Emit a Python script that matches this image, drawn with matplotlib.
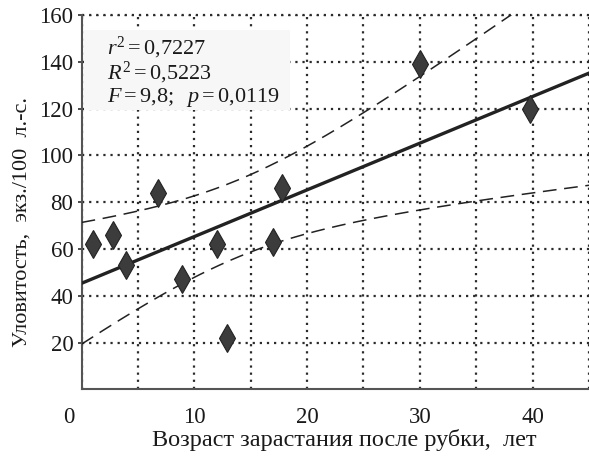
import numpy as np
import matplotlib
matplotlib.use("Agg")
import matplotlib.pyplot as plt
import matplotlib.transforms as mtransforms
from matplotlib.patches import Rectangle

plt.rcParams["font.family"] = ["Liberation Serif", "DejaVu Serif"]
plt.rcParams["mathtext.fontset"] = "custom"
plt.rcParams["mathtext.rm"] = "Liberation Serif"
plt.rcParams["mathtext.it"] = "Liberation Serif:italic"

# Data
age = [1.0, 2.8, 3.9, 6.8, 8.9, 12.0, 12.9, 17.0, 17.8, 30.0, 39.8]
catch = [62, 66, 53, 84, 47, 62, 22, 63, 86, 139, 120]
stats_lines = [r"$r^2 = 0{,}7227$", r"$R^2 = 0{,}5223$", r"$F = 9{,}8;\ \ p = 0{,}0119$"]
x_ticks = [0, 10, 20, 30, 40]
y_ticks = [20, 40, 60, 80, 100, 120, 140, 160]

x = np.array(age)
y = np.array(catch)
n = len(x)

# linear fit and 95% confidence band of the mean
slope, intercept = np.polyfit(x, y, 1)
xs = np.linspace(0, 45, 200)
fit = intercept + slope * xs
resid = y - (intercept + slope * x)
s = np.sqrt(np.sum(resid ** 2) / (n - 2))
t_crit = 2.262
half = t_crit * s * np.sqrt(1 / n + (xs - x.mean()) ** 2 / np.sum((x - x.mean()) ** 2))

ink = "#2b2b2b"
fig = plt.figure(figsize=(5.89, 4.58), dpi=100)
ax = fig.add_axes([81.6 / 589, 1 - 389.4 / 458, 1 - 81.6 / 589, (389.4 - 15) / 458])

ax.set_xlim(0, 44.75)
ax.set_ylim(0, 160)
ax.set_xticks(x_ticks)
ax.set_yticks(y_ticks)
ax.set_xticks([5, 15, 25, 35, 45], minor=True)

ax.grid(True, which="both", axis="x", color=ink, linestyle=(0, (1, 2.2)), linewidth=1.6)
ax.grid(True, axis="y", color=ink, linestyle=(0, (1, 2.2)), linewidth=1.6)
ax.axhline(160, color=ink, linestyle=(0, (1, 2.2)), linewidth=1.6, clip_on=False)

for side in ["top", "right"]:
    ax.spines[side].set_visible(False)
for side in ["left", "bottom"]:
    ax.spines[side].set_color("#555555")
    ax.spines[side].set_linewidth(1.5)

ax.tick_params(axis="y", direction="out", length=3, width=1.2, color=ink, labelsize=16.5, pad=3, labelcolor="#1a1a1a")
ax.tick_params(axis="x", which="both", length=0, labelsize=16.5, pad=13, labelcolor="#1a1a1a")

# shift the "0" label a little to the left, as in the picture
offset = mtransforms.ScaledTranslation(-13 / 100, 0, fig.dpi_scale_trans)
lbl0 = ax.get_xticklabels()[0]
lbl0.set_transform(lbl0.get_transform() + offset)

ax.plot(xs, fit, color="#222222", linewidth=2.4, zorder=4)
ax.plot(xs, fit + half, color="#222222", linewidth=1.1, dashes=(9, 5), zorder=4)
ax.plot(xs, fit - half, color="#222222", linewidth=1.1, dashes=(9, 5), zorder=4)

ax.plot(x, y, linestyle="none", marker="d", markersize=14, markerfacecolor="#3c3c3c",
        markeredgecolor="#222222", markeredgewidth=0.8, zorder=5)

# stats box
ax.add_patch(Rectangle((0.004, 0.746), 0.406, 0.214, transform=ax.transAxes,
                       facecolor="#f7f7f7", edgecolor="none", zorder=3))
for i, line in enumerate(stats_lines):
    ax.text(0.05, 0.912 - i * 0.066, line, transform=ax.transAxes, fontsize=16,
            color="#1a1a1a", ha="left", va="center", zorder=6)

fig.text(22 / 589, 1 - 222 / 458, "Уловитость,  экз./100  л.-с.", rotation=90,
         ha="center", va="center", fontsize=16, color="#1a1a1a")
fig.text(344 / 589, 1 - 440 / 458, "Возраст зарастания после рубки,  лет",
         ha="center", va="center", fontsize=17.5, color="#1a1a1a")

fig.savefig("out.png", dpi=100)
